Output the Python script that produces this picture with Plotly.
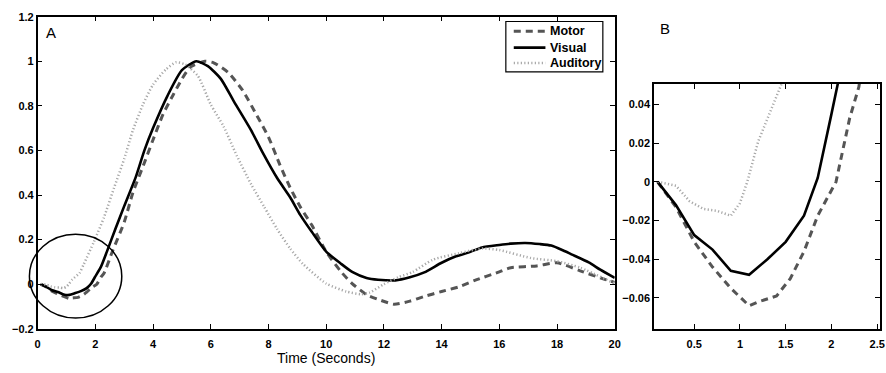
import plotly.graph_objects as go

# ---------------- data ----------------
visual_t = [0.1, 0.3, 0.5, 0.7, 0.9, 1.1, 1.3, 1.5, 1.7, 1.85, 2.0, 2.2, 2.4, 2.7, 3.0, 3.4, 3.7, 4.0,
            4.5, 5.0, 5.5, 5.9, 6.35, 6.8, 7.4, 7.8, 8.3, 8.75, 9.1, 9.5, 10.0, 10.5, 10.9, 11.4, 11.8,
            12.4, 12.9, 13.4, 14.0, 14.5, 15.0, 15.4, 16.0, 16.4, 16.9, 17.4, 17.8, 18.2, 18.5, 19.1,
            19.5, 20.0]
visual_v = [0.0, -0.012, -0.0275, -0.035, -0.046, -0.048, -0.040, -0.031, -0.0175, 0.002, 0.035, 0.08,
            0.146, 0.25, 0.35, 0.48, 0.60, 0.70, 0.845, 0.96, 1.0, 0.978, 0.921, 0.82, 0.69, 0.59,
            0.476, 0.39, 0.311, 0.235, 0.146, 0.093, 0.055, 0.028, 0.02, 0.017, 0.031, 0.053, 0.096,
            0.125, 0.145, 0.165, 0.176, 0.182, 0.185, 0.18, 0.173, 0.152, 0.134, 0.098, 0.065, 0.028]

motor_t = [0.1, 0.3, 0.5, 0.7, 0.9, 1.1, 1.2, 1.4, 1.55, 1.7, 1.85, 2.05, 2.2, 2.3, 2.6, 3.0, 3.3, 3.7,
           4.0, 4.35, 4.7, 5.0, 5.3, 5.8, 6.1, 6.6, 7.1, 7.6, 8.0, 8.4, 8.75, 9.1, 9.5, 10.0, 10.5,
           10.9, 11.4, 11.8, 12.35, 12.9, 13.4, 14.0, 14.6, 15.15, 15.95, 16.4, 17.3, 18.0, 18.8,
           19.6, 20.0]
motor_v = [0.0, -0.013, -0.031, -0.044, -0.055, -0.064, -0.062, -0.059, -0.050, -0.036, -0.0175, 0.0,
           0.033, 0.049, 0.15, 0.278, 0.41, 0.545, 0.648, 0.763, 0.85, 0.92, 0.975, 1.0, 0.993, 0.95,
           0.87, 0.756, 0.66, 0.534, 0.433, 0.347, 0.265, 0.146, 0.058, 0.003, -0.047, -0.068, -0.09,
           -0.076, -0.055, -0.033, -0.012, 0.017, 0.053, 0.074, 0.082, 0.096, 0.06, 0.024, 0.008]

auditory_t = [0.1, 0.3, 0.45, 0.6, 0.75, 0.9, 1.0, 1.08, 1.2, 1.45, 1.6, 1.95, 2.3, 2.65, 3.0, 3.3,
              3.65, 4.0, 4.45, 4.8, 5.1, 5.55, 6.0, 6.45, 6.9, 7.4, 7.85, 8.3, 8.75, 9.2, 10.0, 10.7,
              11.2, 11.5, 12.0, 12.5, 13.0, 13.7, 14.6, 15.4, 16.0, 17.1, 18.0, 18.8, 20.0]
auditory_v = [0.0, -0.002, -0.010, -0.014, -0.015, -0.0175, -0.011, 0.0, 0.021, 0.05, 0.09, 0.19,
              0.30, 0.433, 0.562, 0.69, 0.806, 0.895, 0.964, 0.995, 0.986, 0.935, 0.806, 0.706,
              0.577, 0.448, 0.347, 0.247, 0.16, 0.09, 0.003, -0.033, -0.045, -0.038, 0.0, 0.031,
              0.055, 0.11, 0.139, 0.16, 0.153, 0.117, 0.103, 0.074, 0.003]

a_xticks = [0, 2, 4, 6, 8, 10, 12, 14, 16, 18, 20]
a_yticks = [-0.2, 0, 0.2, 0.4, 0.6, 0.8, 1, 1.2]
b_xticks = [0.5, 1, 1.5, 2, 2.5]
b_yticks = [-0.06, -0.04, -0.02, 0, 0.02, 0.04]

series_names = ["Motor", "Visual", "Auditory"]

# highlighted region (data units of panel A)
circle_x = [-0.285, 2.916]
circle_y = [-0.152, 0.224]

# ---------------- layout constants ----------------
W, H = 886, 373
A_XRANGE = [0, 20]
A_YRANGE = [-0.2, 1.2]
B_XRANGE = [0.0606, 2.531]
B_YRANGE = [-0.076, 0.0505]
A_DX = [35 / W, 618 / W]
A_DY = [1 - 333.5 / H, 1 - 11 / H]
B_DX = [657.7 / W, 1.0]
B_DY = [1 - 333.7 / H, 1 - 80.7 / H]

FONT = "Liberation Sans, Arial, sans-serif"
tickfont = dict(family=FONT, size=11, color="black")


def fmt(vals):
    return ["<b>" + f"{v:g}".replace("-", "\u2212") + "</b>" for v in vals]


styles = {
    "Motor": dict(color="#555555", width=3, dash="7px,5px"),
    "Visual": dict(color="black", width=2.6, dash="solid"),
    "Auditory": dict(color="#a8a8a8", width=2.5, dash="1.2px,2.3px"),
}
series = [("Motor", motor_t, motor_v), ("Visual", visual_t, visual_v),
          ("Auditory", auditory_t, auditory_v)]

fig = go.Figure()
for name, t, v in series:
    fig.add_trace(go.Scatter(x=t, y=v, mode="lines", name=name,
                             line=dict(**styles[name], shape="spline", smoothing=0.6),
                             xaxis="x", yaxis="y", showlegend=False))
for name, t, v in series:
    fig.add_trace(go.Scatter(x=t, y=v, mode="lines", name=name, line=styles[name],
                             xaxis="x2", yaxis="y2", showlegend=False))

axis_common = dict(showline=True, linecolor="black", linewidth=1.5, mirror="ticks",
                   ticks="inside", ticklen=5, tickwidth=1, tickcolor="black",
                   showgrid=False, zeroline=False, tickfont=tickfont)


def to_paper(val, rng, dom):
    return dom[0] + (val - rng[0]) / (rng[1] - rng[0]) * (dom[1] - dom[0])


shapes = [dict(type="circle", xref="paper", yref="paper",
               x0=to_paper(circle_x[0], A_XRANGE, A_DX), x1=to_paper(circle_x[1], A_XRANGE, A_DX),
               y0=to_paper(circle_y[0], A_YRANGE, A_DY), y1=to_paper(circle_y[1], A_YRANGE, A_DY),
               line=dict(color="black", width=1.5))]
annotations = [
    dict(text="A", x=48.5 / W, y=1 - 27 / H, xref="paper", yref="paper", showarrow=False,
         xanchor="center", yanchor="middle", font=dict(family=FONT, size=15, color="black")),
    dict(text="B", x=669 / W, y=1 - 23 / H, xref="paper", yref="paper", showarrow=False,
         xanchor="center", yanchor="middle", font=dict(family=FONT, size=15, color="black")),
    dict(text="Time (Seconds)", x=to_paper(10, A_XRANGE, A_DX), y=1 - 364 / H, xref="paper",
         yref="paper", showarrow=False, xanchor="center", yanchor="middle",
         font=dict(family=FONT, size=14, color="black")),
]

# legend box (drawn in pixel-derived paper coordinates)
LEG = dict(x0=508, x1=606, y0=16, y1=68, line_x0=516, line_x1=548, text_x=551, rows=[26, 43, 59])
shapes.append(dict(type="rect", xref="paper", yref="paper", x0=LEG["x0"] / W, x1=LEG["x1"] / W,
                   y0=1 - LEG["y1"] / H, y1=1 - LEG["y0"] / H, fillcolor="white",
                   line=dict(color="black", width=1.2), layer="above"))
for name, row in zip(series_names, LEG["rows"]):
    st = styles[name]
    shapes.append(dict(type="line", xref="paper", yref="paper", x0=LEG["line_x0"] / W,
                       x1=LEG["line_x1"] / W, y0=1 - row / H, y1=1 - row / H, layer="above",
                       line=dict(color=st["color"], width=st["width"], dash=st["dash"])))
    annotations.append(dict(text="<b>" + name + "</b>", x=LEG["text_x"] / W, y=1 - row / H,
                            xref="paper", yref="paper", showarrow=False, xanchor="left",
                            yanchor="middle", font=dict(family=FONT, size=12.5, color="black")))

fig.update_layout(
    width=W, height=H,
    margin=dict(l=0, r=0, t=0, b=0),
    paper_bgcolor="white", plot_bgcolor="white",
    showlegend=False,
    xaxis=dict(domain=A_DX, range=A_XRANGE, tickvals=a_xticks, ticktext=fmt(a_xticks), anchor="y",
               ticklabelstandoff=4, **axis_common),
    yaxis=dict(domain=A_DY, range=A_YRANGE, tickvals=a_yticks, ticktext=fmt(a_yticks), anchor="x",
               **axis_common),
    xaxis2=dict(domain=B_DX, range=B_XRANGE, tickvals=b_xticks, ticktext=fmt(b_xticks), anchor="y2",
                ticklabelstandoff=4, **axis_common),
    yaxis2=dict(domain=B_DY, range=B_YRANGE, tickvals=b_yticks, ticktext=fmt(b_yticks), anchor="x2",
                **axis_common),
    shapes=shapes,
    annotations=annotations,
)

fig.write_html("out.html")
